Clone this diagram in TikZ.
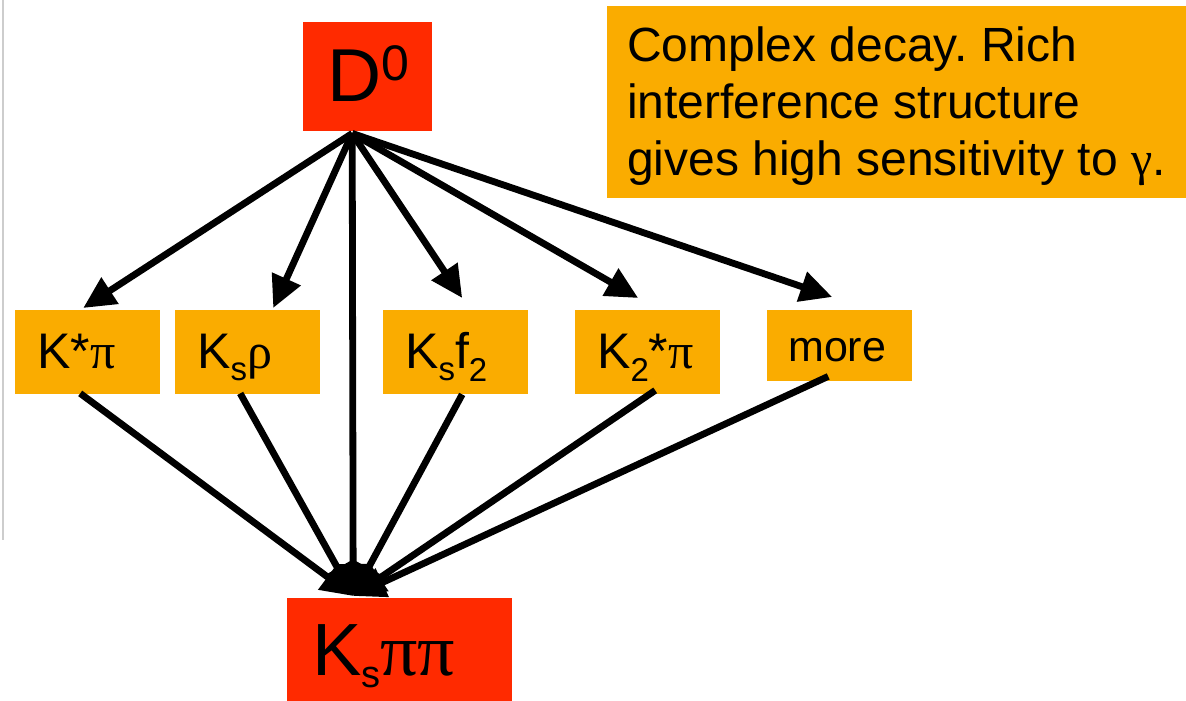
\documentclass[tikz,border=0pt]{standalone}
\usepackage{fontspec}
\setmainfont{Liberation Sans}
\newfontfamily\gk{Liberation Serif}
\usetikzlibrary{arrows.meta}
\definecolor{boxred}{RGB}{255,42,0}
\definecolor{boxorange}{RGB}{250,172,0}
\definecolor{edgegray}{RGB}{205,205,205}
\newcommand{\lowsub}[3]{\raisebox{-#1}{\fontsize{#2}{#2}\selectfont #3}}
\frenchspacing
\begin{document}
\begin{tikzpicture}[x=1pt,y=-1pt,
  redbox/.style={fill=boxred, draw=none, inner sep=0pt, anchor=north west},
  orbox/.style={fill=boxorange, draw=none, inner sep=0pt, anchor=north west},
  smallbox/.style={orbox, minimum width=145pt, minimum height=84pt},
  lbl/.style={anchor=base west, inner sep=0pt, text=black},
  smalllbl/.style={lbl, font=\fontsize{50}{50}\selectfont},
  notelbl/.style={lbl, font=\fontsize{48}{56}\selectfont},
  arr/.style={line width=6.8pt, black, -{Triangle[length=32pt,width=30pt]}}]
\useasboundingbox (0,0) rectangle (1186,701);
\fill[white] (0,0) rectangle (1186,701);
% screenshot edge
\draw[edgegray, line width=2.5pt] (3,0) -- (3,540);
% boxes
\node[redbox, minimum width=129pt, minimum height=109pt] (D) at (303,22) {};
\node[orbox, minimum width=579pt, minimum height=192pt] (note) at (607,6) {};
\node[smallbox] (kp) at (15,310) {};
\node[smallbox] (ksr) at (175,310) {};
\node[smallbox] (ksf) at (383,310) {};
\node[smallbox] (k2p) at (575,310) {};
\node[orbox, minimum width=145pt, minimum height=71pt] (more) at (767,310) {};
\node[redbox, minimum width=225pt, minimum height=113pt] (kpp) at (287,598) {};
% labels
\node[lbl, font=\fontsize{75}{75}\selectfont] (Dlbl) at (327,102) {D\raisebox{21pt}{\fontsize{50}{50}\selectfont 0}};
\node[notelbl] (note1) at (627,62) {Complex decay. Rich};
\node[notelbl] (note2) at (627,118) {interference structure};
\node[notelbl] (note3) at (627,175) {gives high sensitivity to {\gk γ}.};
\node[smalllbl] (kplbl) at (37,368) {K*{\gk π}};
\node[smalllbl] (ksrlbl) at (197,368) {K\lowsub{12pt}{33}{s}{\gk ρ}};
\node[smalllbl] (ksflbl) at (405,368) {K\lowsub{12pt}{33}{s}f\lowsub{13pt}{33}{2}};
\node[smalllbl] (k2plbl) at (597,368) {K\lowsub{13pt}{33}{2}*{\gk π}};
\node[lbl, font=\fontsize{43}{43}\selectfont] (morelbl) at (788,361) {more};
\node[lbl, font=\fontsize{74}{74}\selectfont] (kpplbl) at (312,675) {K\lowsub{12pt}{38}{s}{\gk ππ}};
% connector ends
\coordinate (src) at ([xshift=-15.5pt,yshift=-2pt]D.south);
\coordinate (tgt) at ([xshift=-46.5pt,yshift=2pt]kpp.north);
% arrows from D0
\draw[arr] (src) -- ([xshift=-4.5pt,yshift=2pt]kp.north);
\draw[arr] (src) -- ([xshift=25.5pt,yshift=2pt]ksr.north);
\draw[arr] (src) -- ([xshift=6.5pt,yshift=12pt]ksf.north);
\draw[arr] (src) -- ([xshift=-9.5pt,yshift=12pt]k2p.north);
\draw[arr] (src) -- ([xshift=-7.5pt,yshift=13pt]more.north);
\draw[arr] (src) -- (tgt);
% arrows to Ks pi pi
\draw[arr] ([xshift=-7.5pt,yshift=1pt]kp.south) -- (tgt);
\draw[arr] ([xshift=-7.5pt,yshift=1pt]ksr.south) -- (tgt);
\draw[arr] ([xshift=6.5pt]ksf.south) -- (tgt);
\draw[arr] ([xshift=7.5pt,yshift=4pt]k2p.south) -- (tgt);
\draw[arr] ([xshift=-11.5pt,yshift=5pt]more.south) -- (tgt);
\end{tikzpicture}
\end{document}
